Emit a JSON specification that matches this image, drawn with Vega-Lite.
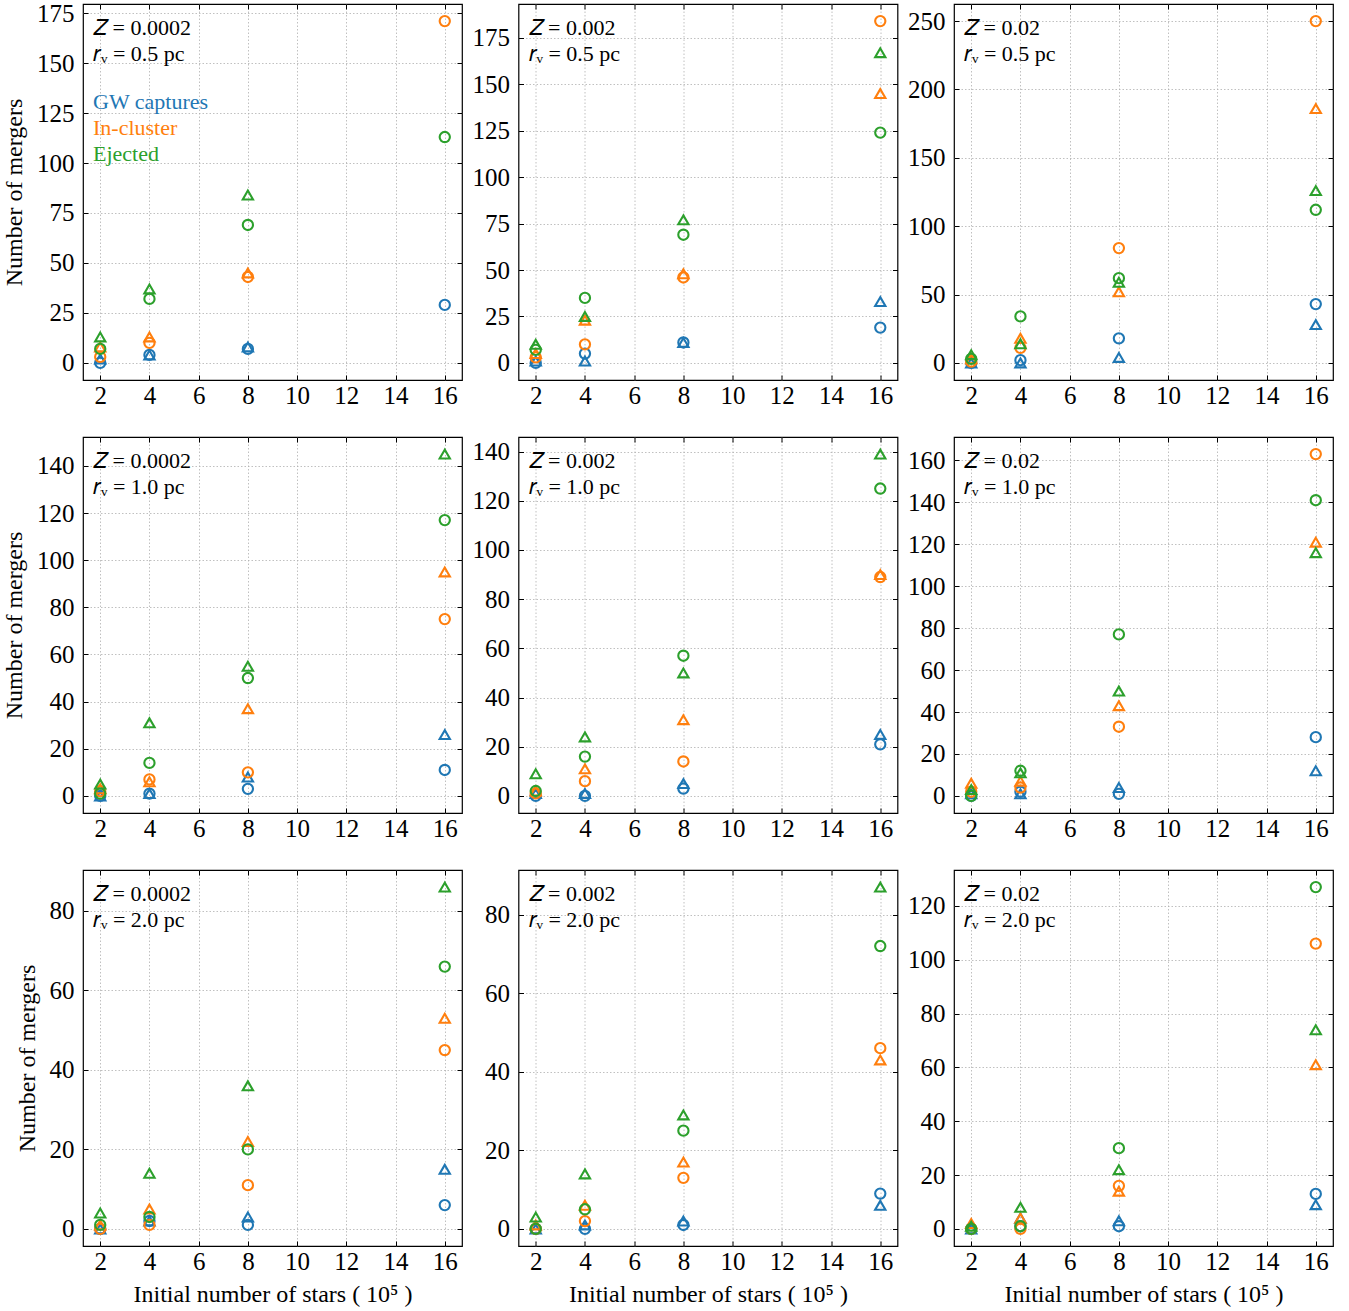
{
  "$schema": "https://vega.github.io/schema/vega-lite/v6.json",
  "padding": {"left": 1, "top": 0, "right": 0, "bottom": 0},
  "background": "white",
  "bounds": "flush",
  "columns": 3,
  "spacing": {"row": 57, "column": 56.5},
  "resolve": {"scale": {"color": "independent", "shape": "independent"}},
  "config": {
    "font": "Liberation Serif",
    "view": {"stroke": "black", "strokeWidth": 1.2},
    "axis": {"labelFont": "Liberation Serif", "labelFontSize": 25, "labelColor": "black", "titleFont": "Liberation Serif", "titleFontSize": 24, "titleFontWeight": "normal", "titleColor": "black", "domain": false, "tickColor": "black", "tickSize": -5, "tickWidth": 1, "gridColor": "#b0b0b0", "gridDash": [1.5, 2], "gridWidth": 0.8, "labelPadding": 14, "titlePadding": 8, "labelFlush": false, "labelOverlap": false},
    "axisX": {"labelPadding": 8},
    "axisY": {"titlePadding": 10},
    "title": {"font": "Liberation Serif", "fontSize": 22, "fontWeight": "normal", "subtitleFont": "Liberation Serif", "subtitleFontSize": 22, "anchor": "start", "frame": "group", "color": "black", "subtitleColor": "black", "offset": -62, "dx": 10, "subtitlePadding": 4},
    "point": {"filled": false, "strokeWidth": 2.1, "size": 105, "opacity": 1}
  },
  "data": {"values": [
    {"p":1,"n":2,"c":"GW captures","s":"o","v":0},{"p":1,"n":4,"c":"GW captures","s":"o","v":4},{"p":1,"n":8,"c":"GW captures","s":"o","v":7},{"p":1,"n":16,"c":"GW captures","s":"o","v":29},
    {"p":1,"n":2,"c":"GW captures","s":"t","v":2},{"p":1,"n":4,"c":"GW captures","s":"t","v":4},{"p":1,"n":8,"c":"GW captures","s":"t","v":8},
    {"p":1,"n":2,"c":"In-cluster","s":"o","v":3},{"p":1,"n":4,"c":"In-cluster","s":"o","v":10},{"p":1,"n":8,"c":"In-cluster","s":"o","v":43},{"p":1,"n":16,"c":"In-cluster","s":"o","v":171},
    {"p":1,"n":2,"c":"In-cluster","s":"t","v":8},{"p":1,"n":4,"c":"In-cluster","s":"t","v":13},{"p":1,"n":8,"c":"In-cluster","s":"t","v":45},
    {"p":1,"n":2,"c":"Ejected","s":"o","v":7},{"p":1,"n":4,"c":"Ejected","s":"o","v":32},{"p":1,"n":8,"c":"Ejected","s":"o","v":69},{"p":1,"n":16,"c":"Ejected","s":"o","v":113},
    {"p":1,"n":2,"c":"Ejected","s":"t","v":13},{"p":1,"n":4,"c":"Ejected","s":"t","v":37},{"p":1,"n":8,"c":"Ejected","s":"t","v":84},

    {"p":2,"n":2,"c":"GW captures","s":"o","v":0},{"p":2,"n":4,"c":"GW captures","s":"o","v":5},{"p":2,"n":8,"c":"GW captures","s":"o","v":11},{"p":2,"n":16,"c":"GW captures","s":"o","v":19},
    {"p":2,"n":2,"c":"GW captures","s":"t","v":1},{"p":2,"n":4,"c":"GW captures","s":"t","v":1},{"p":2,"n":8,"c":"GW captures","s":"t","v":11},{"p":2,"n":16,"c":"GW captures","s":"t","v":33},
    {"p":2,"n":2,"c":"In-cluster","s":"o","v":3},{"p":2,"n":4,"c":"In-cluster","s":"o","v":10},{"p":2,"n":8,"c":"In-cluster","s":"o","v":46},{"p":2,"n":16,"c":"In-cluster","s":"o","v":184},
    {"p":2,"n":2,"c":"In-cluster","s":"t","v":5},{"p":2,"n":4,"c":"In-cluster","s":"t","v":23},{"p":2,"n":8,"c":"In-cluster","s":"t","v":48},{"p":2,"n":16,"c":"In-cluster","s":"t","v":145},
    {"p":2,"n":2,"c":"Ejected","s":"o","v":7},{"p":2,"n":4,"c":"Ejected","s":"o","v":35},{"p":2,"n":8,"c":"Ejected","s":"o","v":69},{"p":2,"n":16,"c":"Ejected","s":"o","v":124},
    {"p":2,"n":2,"c":"Ejected","s":"t","v":10},{"p":2,"n":4,"c":"Ejected","s":"t","v":25},{"p":2,"n":8,"c":"Ejected","s":"t","v":77},{"p":2,"n":16,"c":"Ejected","s":"t","v":167},

    {"p":3,"n":2,"c":"GW captures","s":"o","v":0},{"p":3,"n":4,"c":"GW captures","s":"o","v":2},{"p":3,"n":8,"c":"GW captures","s":"o","v":18},{"p":3,"n":16,"c":"GW captures","s":"o","v":43},
    {"p":3,"n":2,"c":"GW captures","s":"t","v":0},{"p":3,"n":4,"c":"GW captures","s":"t","v":0},{"p":3,"n":8,"c":"GW captures","s":"t","v":4},{"p":3,"n":16,"c":"GW captures","s":"t","v":28},
    {"p":3,"n":2,"c":"In-cluster","s":"o","v":1},{"p":3,"n":4,"c":"In-cluster","s":"o","v":11},{"p":3,"n":8,"c":"In-cluster","s":"o","v":84},{"p":3,"n":16,"c":"In-cluster","s":"o","v":250},
    {"p":3,"n":2,"c":"In-cluster","s":"t","v":3},{"p":3,"n":4,"c":"In-cluster","s":"t","v":18},{"p":3,"n":8,"c":"In-cluster","s":"t","v":52},{"p":3,"n":16,"c":"In-cluster","s":"t","v":186},
    {"p":3,"n":2,"c":"Ejected","s":"o","v":3},{"p":3,"n":4,"c":"Ejected","s":"o","v":34},{"p":3,"n":8,"c":"Ejected","s":"o","v":62},{"p":3,"n":16,"c":"Ejected","s":"o","v":112},
    {"p":3,"n":2,"c":"Ejected","s":"t","v":6},{"p":3,"n":4,"c":"Ejected","s":"t","v":14},{"p":3,"n":8,"c":"Ejected","s":"t","v":59},{"p":3,"n":16,"c":"Ejected","s":"t","v":126},

    {"p":4,"n":2,"c":"GW captures","s":"o","v":0},{"p":4,"n":4,"c":"GW captures","s":"o","v":1},{"p":4,"n":8,"c":"GW captures","s":"o","v":3},{"p":4,"n":16,"c":"GW captures","s":"o","v":11},
    {"p":4,"n":2,"c":"GW captures","s":"t","v":0},{"p":4,"n":4,"c":"GW captures","s":"t","v":1},{"p":4,"n":8,"c":"GW captures","s":"t","v":8},{"p":4,"n":16,"c":"GW captures","s":"t","v":26},
    {"p":4,"n":2,"c":"In-cluster","s":"o","v":2},{"p":4,"n":4,"c":"In-cluster","s":"o","v":7},{"p":4,"n":8,"c":"In-cluster","s":"o","v":10},{"p":4,"n":16,"c":"In-cluster","s":"o","v":75},
    {"p":4,"n":2,"c":"In-cluster","s":"t","v":3},{"p":4,"n":4,"c":"In-cluster","s":"t","v":6},{"p":4,"n":8,"c":"In-cluster","s":"t","v":37},{"p":4,"n":16,"c":"In-cluster","s":"t","v":95},
    {"p":4,"n":2,"c":"Ejected","s":"o","v":1},{"p":4,"n":4,"c":"Ejected","s":"o","v":14},{"p":4,"n":8,"c":"Ejected","s":"o","v":50},{"p":4,"n":16,"c":"Ejected","s":"o","v":117},
    {"p":4,"n":2,"c":"Ejected","s":"t","v":5},{"p":4,"n":4,"c":"Ejected","s":"t","v":31},{"p":4,"n":8,"c":"Ejected","s":"t","v":55},{"p":4,"n":16,"c":"Ejected","s":"t","v":145},

    {"p":5,"n":2,"c":"GW captures","s":"o","v":0},{"p":5,"n":4,"c":"GW captures","s":"o","v":0},{"p":5,"n":8,"c":"GW captures","s":"o","v":3},{"p":5,"n":16,"c":"GW captures","s":"o","v":21},
    {"p":5,"n":2,"c":"GW captures","s":"t","v":1},{"p":5,"n":4,"c":"GW captures","s":"t","v":1},{"p":5,"n":8,"c":"GW captures","s":"t","v":5},{"p":5,"n":16,"c":"GW captures","s":"t","v":25},
    {"p":5,"n":2,"c":"In-cluster","s":"o","v":1},{"p":5,"n":4,"c":"In-cluster","s":"o","v":6},{"p":5,"n":8,"c":"In-cluster","s":"o","v":14},{"p":5,"n":16,"c":"In-cluster","s":"o","v":89},
    {"p":5,"n":2,"c":"In-cluster","s":"t","v":2},{"p":5,"n":4,"c":"In-cluster","s":"t","v":11},{"p":5,"n":8,"c":"In-cluster","s":"t","v":31},{"p":5,"n":16,"c":"In-cluster","s":"t","v":90},
    {"p":5,"n":2,"c":"Ejected","s":"o","v":2},{"p":5,"n":4,"c":"Ejected","s":"o","v":16},{"p":5,"n":8,"c":"Ejected","s":"o","v":57},{"p":5,"n":16,"c":"Ejected","s":"o","v":125},
    {"p":5,"n":2,"c":"Ejected","s":"t","v":9},{"p":5,"n":4,"c":"Ejected","s":"t","v":24},{"p":5,"n":8,"c":"Ejected","s":"t","v":50},{"p":5,"n":16,"c":"Ejected","s":"t","v":139},

    {"p":6,"n":2,"c":"GW captures","s":"o","v":0},{"p":6,"n":4,"c":"GW captures","s":"o","v":2},{"p":6,"n":8,"c":"GW captures","s":"o","v":1},{"p":6,"n":16,"c":"GW captures","s":"o","v":28},
    {"p":6,"n":2,"c":"GW captures","s":"t","v":1},{"p":6,"n":4,"c":"GW captures","s":"t","v":1},{"p":6,"n":8,"c":"GW captures","s":"t","v":4},{"p":6,"n":16,"c":"GW captures","s":"t","v":12},
    {"p":6,"n":2,"c":"In-cluster","s":"o","v":2},{"p":6,"n":4,"c":"In-cluster","s":"o","v":4},{"p":6,"n":8,"c":"In-cluster","s":"o","v":33},{"p":6,"n":16,"c":"In-cluster","s":"o","v":163},
    {"p":6,"n":2,"c":"In-cluster","s":"t","v":6},{"p":6,"n":4,"c":"In-cluster","s":"t","v":7},{"p":6,"n":8,"c":"In-cluster","s":"t","v":43},{"p":6,"n":16,"c":"In-cluster","s":"t","v":121},
    {"p":6,"n":2,"c":"Ejected","s":"o","v":0},{"p":6,"n":4,"c":"Ejected","s":"o","v":12},{"p":6,"n":8,"c":"Ejected","s":"o","v":77},{"p":6,"n":16,"c":"Ejected","s":"o","v":141},
    {"p":6,"n":2,"c":"Ejected","s":"t","v":3},{"p":6,"n":4,"c":"Ejected","s":"t","v":11},{"p":6,"n":8,"c":"Ejected","s":"t","v":50},{"p":6,"n":16,"c":"Ejected","s":"t","v":116},

    {"p":7,"n":2,"c":"GW captures","s":"o","v":0},{"p":7,"n":4,"c":"GW captures","s":"o","v":2},{"p":7,"n":8,"c":"GW captures","s":"o","v":1},{"p":7,"n":16,"c":"GW captures","s":"o","v":6},
    {"p":7,"n":2,"c":"GW captures","s":"t","v":0},{"p":7,"n":4,"c":"GW captures","s":"t","v":2},{"p":7,"n":8,"c":"GW captures","s":"t","v":3},{"p":7,"n":16,"c":"GW captures","s":"t","v":15},
    {"p":7,"n":2,"c":"In-cluster","s":"o","v":0},{"p":7,"n":4,"c":"In-cluster","s":"o","v":1},{"p":7,"n":8,"c":"In-cluster","s":"o","v":11},{"p":7,"n":16,"c":"In-cluster","s":"o","v":45},
    {"p":7,"n":2,"c":"In-cluster","s":"t","v":1},{"p":7,"n":4,"c":"In-cluster","s":"t","v":5},{"p":7,"n":8,"c":"In-cluster","s":"t","v":22},{"p":7,"n":16,"c":"In-cluster","s":"t","v":53},
    {"p":7,"n":2,"c":"Ejected","s":"o","v":1},{"p":7,"n":4,"c":"Ejected","s":"o","v":3},{"p":7,"n":8,"c":"Ejected","s":"o","v":20},{"p":7,"n":16,"c":"Ejected","s":"o","v":66},
    {"p":7,"n":2,"c":"Ejected","s":"t","v":4},{"p":7,"n":4,"c":"Ejected","s":"t","v":14},{"p":7,"n":8,"c":"Ejected","s":"t","v":36},{"p":7,"n":16,"c":"Ejected","s":"t","v":86},

    {"p":8,"n":2,"c":"GW captures","s":"o","v":0},{"p":8,"n":4,"c":"GW captures","s":"o","v":0},{"p":8,"n":8,"c":"GW captures","s":"o","v":1},{"p":8,"n":16,"c":"GW captures","s":"o","v":9},
    {"p":8,"n":2,"c":"GW captures","s":"t","v":0},{"p":8,"n":4,"c":"GW captures","s":"t","v":1},{"p":8,"n":8,"c":"GW captures","s":"t","v":2},{"p":8,"n":16,"c":"GW captures","s":"t","v":6},
    {"p":8,"n":2,"c":"In-cluster","s":"o","v":0},{"p":8,"n":4,"c":"In-cluster","s":"o","v":2},{"p":8,"n":8,"c":"In-cluster","s":"o","v":13},{"p":8,"n":16,"c":"In-cluster","s":"o","v":46},
    {"p":8,"n":2,"c":"In-cluster","s":"t","v":1},{"p":8,"n":4,"c":"In-cluster","s":"t","v":6},{"p":8,"n":8,"c":"In-cluster","s":"t","v":17},{"p":8,"n":16,"c":"In-cluster","s":"t","v":43},
    {"p":8,"n":2,"c":"Ejected","s":"o","v":0},{"p":8,"n":4,"c":"Ejected","s":"o","v":5},{"p":8,"n":8,"c":"Ejected","s":"o","v":25},{"p":8,"n":16,"c":"Ejected","s":"o","v":72},
    {"p":8,"n":2,"c":"Ejected","s":"t","v":3},{"p":8,"n":4,"c":"Ejected","s":"t","v":14},{"p":8,"n":8,"c":"Ejected","s":"t","v":29},{"p":8,"n":16,"c":"Ejected","s":"t","v":87},

    {"p":9,"n":2,"c":"GW captures","s":"o","v":0},{"p":9,"n":4,"c":"GW captures","s":"o","v":1},{"p":9,"n":8,"c":"GW captures","s":"o","v":1},{"p":9,"n":16,"c":"GW captures","s":"o","v":13},
    {"p":9,"n":2,"c":"GW captures","s":"t","v":0},{"p":9,"n":4,"c":"GW captures","s":"t","v":4},{"p":9,"n":8,"c":"GW captures","s":"t","v":3},{"p":9,"n":16,"c":"GW captures","s":"t","v":9},
    {"p":9,"n":2,"c":"In-cluster","s":"o","v":0},{"p":9,"n":4,"c":"In-cluster","s":"o","v":0},{"p":9,"n":8,"c":"In-cluster","s":"o","v":16},{"p":9,"n":16,"c":"In-cluster","s":"o","v":106},
    {"p":9,"n":2,"c":"In-cluster","s":"t","v":2},{"p":9,"n":4,"c":"In-cluster","s":"t","v":4},{"p":9,"n":8,"c":"In-cluster","s":"t","v":14},{"p":9,"n":16,"c":"In-cluster","s":"t","v":61},
    {"p":9,"n":2,"c":"Ejected","s":"o","v":0},{"p":9,"n":4,"c":"Ejected","s":"o","v":1},{"p":9,"n":8,"c":"Ejected","s":"o","v":30},{"p":9,"n":16,"c":"Ejected","s":"o","v":127},
    {"p":9,"n":2,"c":"Ejected","s":"t","v":1},{"p":9,"n":4,"c":"Ejected","s":"t","v":8},{"p":9,"n":8,"c":"Ejected","s":"t","v":22},{"p":9,"n":16,"c":"Ejected","s":"t","v":74}
  ]},
  "concat": [
    {"width": 379, "height": 376, "title": {"text": "𝑍 = 0.0002", "subtitle": "𝑟ᵥ = 0.5 pc", "offset": -65},
     "transform": [{"filter": "datum.p == 1"}],
     "layer": [
      {"mark": "point", "encoding": {
        "x": {"field": "n", "type": "quantitative", "scale": {"domain": [1.3, 16.7], "nice": false, "zero": false}, "axis": {"values": [2,4,6,8,10,12,14,16], "title": null}},
        "y": {"field": "v", "type": "quantitative", "scale": {"domain": [-8.55, 179.55], "nice": false, "zero": false}, "axis": {"values": [0,25,50,75,100,125,150,175], "title": "Number of mergers"}},
        "color": {"field": "c", "type": "nominal", "scale": {"domain": ["GW captures","In-cluster","Ejected"], "range": ["#1f77b4","#ff7f0e","#2ca02c"]},
          "legend": {"orient": "none", "legendX": -12, "legendY": 87, "title": null, "symbolOpacity": 0, "symbolSize": 0, "symbolStrokeWidth": 0, "labelFont": "Liberation Serif", "labelFontSize": 22, "labelOffset": 0, "rowPadding": 4, "padding": 0,
            "labelColor": {"expr": "datum.label == 'GW captures' ? '#1f77b4' : (datum.label == 'In-cluster' ? '#ff7f0e' : '#2ca02c')"}}},
        "shape": {"field": "s", "type": "nominal", "scale": {"domain": ["o","t"], "range": ["circle","triangle-up"]}, "legend": null}}},
      {"mark": {"type": "point", "opacity": 0}, "encoding": {
        "x": {"field": "n", "type": "quantitative", "axis": {"orient": "top", "values": [2,4,6,8,10,12,14,16], "labels": false, "grid": false, "title": null}},
        "y": {"field": "v", "type": "quantitative", "axis": {"orient": "right", "values": [0,25,50,75,100,125,150,175], "labels": false, "grid": false, "title": null}}}}
     ],
     "resolve": {"axis": {"x": "independent", "y": "independent"}}},

    {"width": 379, "height": 376, "title": {"text": "𝑍 = 0.002", "subtitle": "𝑟ᵥ = 0.5 pc"},
     "transform": [{"filter": "datum.p == 2"}],
     "layer": [
      {"mark": "point", "encoding": {
        "x": {"field": "n", "type": "quantitative", "scale": {"domain": [1.3, 16.7], "nice": false, "zero": false}, "axis": {"values": [2,4,6,8,10,12,14,16], "title": null}},
        "y": {"field": "v", "type": "quantitative", "scale": {"domain": [-9.2, 193.2], "nice": false, "zero": false}, "axis": {"values": [0,25,50,75,100,125,150,175], "title": null}},
        "color": {"field": "c", "type": "nominal", "scale": {"domain": ["GW captures","In-cluster","Ejected"], "range": ["#1f77b4","#ff7f0e","#2ca02c"]}, "legend": null},
        "shape": {"field": "s", "type": "nominal", "scale": {"domain": ["o","t"], "range": ["circle","triangle-up"]}, "legend": null}}},
      {"mark": {"type": "point", "opacity": 0}, "encoding": {
        "x": {"field": "n", "type": "quantitative", "axis": {"orient": "top", "values": [2,4,6,8,10,12,14,16], "labels": false, "grid": false, "title": null}},
        "y": {"field": "v", "type": "quantitative", "axis": {"orient": "right", "values": [0,25,50,75,100,125,150,175], "labels": false, "grid": false, "title": null}}}}
     ],
     "resolve": {"axis": {"x": "independent", "y": "independent"}}},

    {"width": 379, "height": 376, "title": {"text": "𝑍 = 0.02", "subtitle": "𝑟ᵥ = 0.5 pc"},
     "transform": [{"filter": "datum.p == 3"}],
     "layer": [
      {"mark": "point", "encoding": {
        "x": {"field": "n", "type": "quantitative", "scale": {"domain": [1.3, 16.7], "nice": false, "zero": false}, "axis": {"values": [2,4,6,8,10,12,14,16], "title": null}},
        "y": {"field": "v", "type": "quantitative", "scale": {"domain": [-12.5, 262.5], "nice": false, "zero": false}, "axis": {"values": [0,50,100,150,200,250], "title": null}},
        "color": {"field": "c", "type": "nominal", "scale": {"domain": ["GW captures","In-cluster","Ejected"], "range": ["#1f77b4","#ff7f0e","#2ca02c"]}, "legend": null},
        "shape": {"field": "s", "type": "nominal", "scale": {"domain": ["o","t"], "range": ["circle","triangle-up"]}, "legend": null}}},
      {"mark": {"type": "point", "opacity": 0}, "encoding": {
        "x": {"field": "n", "type": "quantitative", "axis": {"orient": "top", "values": [2,4,6,8,10,12,14,16], "labels": false, "grid": false, "title": null}},
        "y": {"field": "v", "type": "quantitative", "axis": {"orient": "right", "values": [0,50,100,150,200,250], "labels": false, "grid": false, "title": null}}}}
     ],
     "resolve": {"axis": {"x": "independent", "y": "independent"}}},

    {"width": 379, "height": 376, "title": {"text": "𝑍 = 0.0002", "subtitle": "𝑟ᵥ = 1.0 pc"},
     "transform": [{"filter": "datum.p == 4"}],
     "layer": [
      {"mark": "point", "encoding": {
        "x": {"field": "n", "type": "quantitative", "scale": {"domain": [1.3, 16.7], "nice": false, "zero": false}, "axis": {"values": [2,4,6,8,10,12,14,16], "title": null}},
        "y": {"field": "v", "type": "quantitative", "scale": {"domain": [-7.25, 152.25], "nice": false, "zero": false}, "axis": {"values": [0,20,40,60,80,100,120,140], "title": "Number of mergers"}},
        "color": {"field": "c", "type": "nominal", "scale": {"domain": ["GW captures","In-cluster","Ejected"], "range": ["#1f77b4","#ff7f0e","#2ca02c"]}, "legend": null},
        "shape": {"field": "s", "type": "nominal", "scale": {"domain": ["o","t"], "range": ["circle","triangle-up"]}, "legend": null}}},
      {"mark": {"type": "point", "opacity": 0}, "encoding": {
        "x": {"field": "n", "type": "quantitative", "axis": {"orient": "top", "values": [2,4,6,8,10,12,14,16], "labels": false, "grid": false, "title": null}},
        "y": {"field": "v", "type": "quantitative", "axis": {"orient": "right", "values": [0,20,40,60,80,100,120,140], "labels": false, "grid": false, "title": null}}}}
     ],
     "resolve": {"axis": {"x": "independent", "y": "independent"}}},

    {"width": 379, "height": 376, "title": {"text": "𝑍 = 0.002", "subtitle": "𝑟ᵥ = 1.0 pc"},
     "transform": [{"filter": "datum.p == 5"}],
     "layer": [
      {"mark": "point", "encoding": {
        "x": {"field": "n", "type": "quantitative", "scale": {"domain": [1.3, 16.7], "nice": false, "zero": false}, "axis": {"values": [2,4,6,8,10,12,14,16], "title": null}},
        "y": {"field": "v", "type": "quantitative", "scale": {"domain": [-6.95, 145.95], "nice": false, "zero": false}, "axis": {"values": [0,20,40,60,80,100,120,140], "title": null}},
        "color": {"field": "c", "type": "nominal", "scale": {"domain": ["GW captures","In-cluster","Ejected"], "range": ["#1f77b4","#ff7f0e","#2ca02c"]}, "legend": null},
        "shape": {"field": "s", "type": "nominal", "scale": {"domain": ["o","t"], "range": ["circle","triangle-up"]}, "legend": null}}},
      {"mark": {"type": "point", "opacity": 0}, "encoding": {
        "x": {"field": "n", "type": "quantitative", "axis": {"orient": "top", "values": [2,4,6,8,10,12,14,16], "labels": false, "grid": false, "title": null}},
        "y": {"field": "v", "type": "quantitative", "axis": {"orient": "right", "values": [0,20,40,60,80,100,120,140], "labels": false, "grid": false, "title": null}}}}
     ],
     "resolve": {"axis": {"x": "independent", "y": "independent"}}},

    {"width": 379, "height": 376, "title": {"text": "𝑍 = 0.02", "subtitle": "𝑟ᵥ = 1.0 pc"},
     "transform": [{"filter": "datum.p == 6"}],
     "layer": [
      {"mark": "point", "encoding": {
        "x": {"field": "n", "type": "quantitative", "scale": {"domain": [1.3, 16.7], "nice": false, "zero": false}, "axis": {"values": [2,4,6,8,10,12,14,16], "title": null}},
        "y": {"field": "v", "type": "quantitative", "scale": {"domain": [-8.15, 171.15], "nice": false, "zero": false}, "axis": {"values": [0,20,40,60,80,100,120,140,160], "title": null}},
        "color": {"field": "c", "type": "nominal", "scale": {"domain": ["GW captures","In-cluster","Ejected"], "range": ["#1f77b4","#ff7f0e","#2ca02c"]}, "legend": null},
        "shape": {"field": "s", "type": "nominal", "scale": {"domain": ["o","t"], "range": ["circle","triangle-up"]}, "legend": null}}},
      {"mark": {"type": "point", "opacity": 0}, "encoding": {
        "x": {"field": "n", "type": "quantitative", "axis": {"orient": "top", "values": [2,4,6,8,10,12,14,16], "labels": false, "grid": false, "title": null}},
        "y": {"field": "v", "type": "quantitative", "axis": {"orient": "right", "values": [0,20,40,60,80,100,120,140,160], "labels": false, "grid": false, "title": null}}}}
     ],
     "resolve": {"axis": {"x": "independent", "y": "independent"}}},

    {"width": 379, "height": 376, "title": {"text": "𝑍 = 0.0002", "subtitle": "𝑟ᵥ = 2.0 pc"},
     "transform": [{"filter": "datum.p == 7"}],
     "layer": [
      {"mark": "point", "encoding": {
        "x": {"field": "n", "type": "quantitative", "scale": {"domain": [1.3, 16.7], "nice": false, "zero": false}, "axis": {"values": [2,4,6,8,10,12,14,16], "title": "Initial number of stars ( 10⁵ )"}},
        "y": {"field": "v", "type": "quantitative", "scale": {"domain": [-4.3, 90.3], "nice": false, "zero": false}, "axis": {"values": [0,20,40,60,80], "title": "Number of mergers"}},
        "color": {"field": "c", "type": "nominal", "scale": {"domain": ["GW captures","In-cluster","Ejected"], "range": ["#1f77b4","#ff7f0e","#2ca02c"]}, "legend": null},
        "shape": {"field": "s", "type": "nominal", "scale": {"domain": ["o","t"], "range": ["circle","triangle-up"]}, "legend": null}}},
      {"mark": {"type": "point", "opacity": 0}, "encoding": {
        "x": {"field": "n", "type": "quantitative", "axis": {"orient": "top", "values": [2,4,6,8,10,12,14,16], "labels": false, "grid": false, "title": null}},
        "y": {"field": "v", "type": "quantitative", "axis": {"orient": "right", "values": [0,20,40,60,80], "labels": false, "grid": false, "title": null}}}}
     ],
     "resolve": {"axis": {"x": "independent", "y": "independent"}}},

    {"width": 379, "height": 376, "title": {"text": "𝑍 = 0.002", "subtitle": "𝑟ᵥ = 2.0 pc"},
     "transform": [{"filter": "datum.p == 8"}],
     "layer": [
      {"mark": "point", "encoding": {
        "x": {"field": "n", "type": "quantitative", "scale": {"domain": [1.3, 16.7], "nice": false, "zero": false}, "axis": {"values": [2,4,6,8,10,12,14,16], "title": "Initial number of stars ( 10⁵ )"}},
        "y": {"field": "v", "type": "quantitative", "scale": {"domain": [-4.35, 91.35], "nice": false, "zero": false}, "axis": {"values": [0,20,40,60,80], "title": null}},
        "color": {"field": "c", "type": "nominal", "scale": {"domain": ["GW captures","In-cluster","Ejected"], "range": ["#1f77b4","#ff7f0e","#2ca02c"]}, "legend": null},
        "shape": {"field": "s", "type": "nominal", "scale": {"domain": ["o","t"], "range": ["circle","triangle-up"]}, "legend": null}}},
      {"mark": {"type": "point", "opacity": 0}, "encoding": {
        "x": {"field": "n", "type": "quantitative", "axis": {"orient": "top", "values": [2,4,6,8,10,12,14,16], "labels": false, "grid": false, "title": null}},
        "y": {"field": "v", "type": "quantitative", "axis": {"orient": "right", "values": [0,20,40,60,80], "labels": false, "grid": false, "title": null}}}}
     ],
     "resolve": {"axis": {"x": "independent", "y": "independent"}}},

    {"width": 379, "height": 376, "title": {"text": "𝑍 = 0.02", "subtitle": "𝑟ᵥ = 2.0 pc"},
     "transform": [{"filter": "datum.p == 9"}],
     "layer": [
      {"mark": "point", "encoding": {
        "x": {"field": "n", "type": "quantitative", "scale": {"domain": [1.3, 16.7], "nice": false, "zero": false}, "axis": {"values": [2,4,6,8,10,12,14,16], "title": "Initial number of stars ( 10⁵ )"}},
        "y": {"field": "v", "type": "quantitative", "scale": {"domain": [-6.35, 133.35], "nice": false, "zero": false}, "axis": {"values": [0,20,40,60,80,100,120], "title": null}},
        "color": {"field": "c", "type": "nominal", "scale": {"domain": ["GW captures","In-cluster","Ejected"], "range": ["#1f77b4","#ff7f0e","#2ca02c"]}, "legend": null},
        "shape": {"field": "s", "type": "nominal", "scale": {"domain": ["o","t"], "range": ["circle","triangle-up"]}, "legend": null}}},
      {"mark": {"type": "point", "opacity": 0}, "encoding": {
        "x": {"field": "n", "type": "quantitative", "axis": {"orient": "top", "values": [2,4,6,8,10,12,14,16], "labels": false, "grid": false, "title": null}},
        "y": {"field": "v", "type": "quantitative", "axis": {"orient": "right", "values": [0,20,40,60,80,100,120], "labels": false, "grid": false, "title": null}}}}
     ],
     "resolve": {"axis": {"x": "independent", "y": "independent"}}}
  ]
}
